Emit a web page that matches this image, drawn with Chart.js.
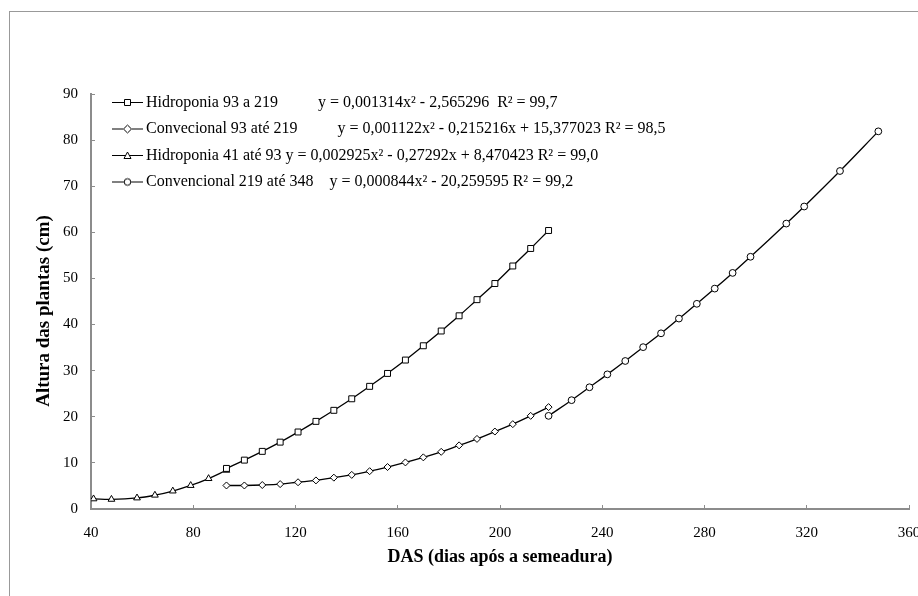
<!DOCTYPE html>
<html lang="pt">
<head>
  <meta charset="UTF-8">
  <title>Altura das plantas</title>
  <script src="https://cdn.jsdelivr.net/npm/chart.js"></script>
  <style>
    html, body {
      margin: 0;
      padding: 0;
      background: #fff;
      overflow: hidden;
    }
    .frame {
      position: absolute;
      left: 9px;
      top: 11px;
      width: 1000px;
      height: 1000px;
      border: 1px solid #999;
    }
    .wrap {
      position: absolute;
      left: 0;
      top: 0;
      width: 918px;
      height: 596px;
    }
  </style>
</head>
<body>
  <div class="frame"></div>
  <div class="wrap"><canvas id="growth"></canvas></div>

  <script>
    // values
    const hidro93Days = [93, 100, 107, 114, 121, 128, 135, 142, 149, 156, 163, 170, 177, 184, 191, 198, 205, 212, 219];
    const hidro93Height = [8.8, 10.6, 12.5, 14.5, 16.7, 19.0, 21.4, 23.9, 26.6, 29.4, 32.3, 35.4, 38.6, 41.9, 45.4, 48.9, 52.7, 56.5, 60.4];

    const conv93Days = [93, 100, 107, 114, 121, 128, 135, 142, 149, 156, 163, 170, 177, 184, 191, 198, 205, 212, 219];
    const conv93Height = [5.1, 5.1, 5.2, 5.4, 5.8, 6.2, 6.8, 7.4, 8.2, 9.1, 10.1, 11.2, 12.4, 13.8, 15.2, 16.8, 18.4, 20.2, 22.1];

    const hidro41Days = [41, 48, 58, 65, 72, 79, 86, 93];
    const hidro41Height = [2.2, 2.1, 2.4, 3.0, 3.9, 5.1, 6.6, 8.4];

    const conv219Days = [219, 228, 235, 242, 249, 256, 263, 270, 277, 284, 291, 298, 312, 319, 333, 348];
    const conv219Height = [20.2, 23.6, 26.4, 29.2, 32.1, 35.1, 38.1, 41.3, 44.5, 47.8, 51.2, 54.7, 61.9, 65.6, 73.3, 81.9];

    const seriesNames = ['Hidroponia 93 a 219', 'Convecional 93 até 219', 'Hidroponia 41 até 93', 'Convencional 219 até 348'];
    const equations = [
      'y = 0,001314x² - 2,565296  R² = 99,7',
      'y = 0,001122x² - 0,215216x + 15,377023 R² = 98,5',
      'y = 0,002925x² - 0,27292x + 8,470423 R² = 99,0',
      'y = 0,000844x² - 20,259595 R² = 99,2'
    ];
    const gaps = ['          ', '          ', ' ', '    '];
    const xTicks = [40, 80, 120, 160, 200, 240, 280, 320, 360];
    const yTicks = [0, 10, 20, 30, 40, 50, 60, 70, 80, 90];

    const serif = "'Liberation Serif', 'Times New Roman', serif";
    const axisGrey = '#8c8c8c';

    function pairs(xs, ys) {
      return xs.map((x, i) => ({ x: x, y: ys[i] }));
    }

    // little line+marker pictures for the legend, Excel style
    function legendIcon(shape) {
      const c = document.createElement('canvas');
      c.width = 33;
      c.height = 13;
      const g = c.getContext('2d');
      g.strokeStyle = '#000';
      g.lineWidth = 1;
      g.beginPath();
      g.moveTo(1, 6.5);
      g.lineTo(32, 6.5);
      g.stroke();
      g.fillStyle = '#fff';
      g.beginPath();
      if (shape === 'rect') {
        g.rect(13.5, 3.5, 6, 6);
      } else if (shape === 'rectRot') {
        g.moveTo(16.5, 2.5); g.lineTo(20.5, 6.5); g.lineTo(16.5, 10.5); g.lineTo(12.5, 6.5); g.closePath();
      } else if (shape === 'triangle') {
        g.moveTo(16.5, 3); g.lineTo(20, 9.5); g.lineTo(13, 9.5); g.closePath();
      } else {
        g.arc(16.5, 6.5, 3.3, 0, Math.PI * 2);
      }
      g.fill();
      g.stroke();
      return c;
    }

    const shapes = ['rect', 'rectRot', 'triangle', 'circle'];
    const icons = shapes.map(legendIcon);

    function makeSet(i, xs, ys, radius) {
      return {
        label: seriesNames[i],
        data: pairs(xs, ys),
        borderColor: '#000',
        borderWidth: 1.3,
        tension: 0.4,
        pointStyle: shapes[i],
        pointRadius: radius,
        pointBorderWidth: 1,
        pointBorderColor: '#000',
        pointBackgroundColor: '#fff'
      };
    }

    // move the legend into the top-left corner of the plot
    const legendSpot = {
      id: 'legendSpot',
      afterLayout(chart) {
        chart.legend.left = chart.chartArea.left + 15.5;
        chart.legend.top = chart.chartArea.top - 10;
      }
    };

    const ctx = document.getElementById('growth').getContext('2d');
    const growthChart = new Chart(ctx, {
      type: 'line',
      data: {
        datasets: [
          makeSet(0, hidro93Days, hidro93Height, 4.2),
          makeSet(1, conv93Days, conv93Height, 3.5),
          makeSet(2, hidro41Days, hidro41Height, 3.9),
          makeSet(3, conv219Days, conv219Height, 3.4)
        ]
      },
      options: {
        responsive: true,
        maintainAspectRatio: false,
        animation: false,
        layout: {
          padding: { top: 94, right: 9, left: 0, bottom: 0 }
        },
        scales: {
          x: {
            type: 'linear',
            min: 40,
            max: 360,
            afterBuildTicks(scale) {
              scale.ticks = xTicks.map(v => ({ value: v }));
            },
            afterFit(scale) {
              scale.height = 87;
              scale.paddingLeft = 0;
              scale.paddingRight = 0;
            },
            ticks: {
              color: '#000',
              font: { family: serif, size: 15 },
              padding: 19,
              maxRotation: 0
            },
            grid: {
              drawOnChartArea: false,
              drawTicks: true,
              tickLength: -4,
              tickColor: axisGrey,
              tickWidth: 1
            },
            border: { color: axisGrey, width: 2 },
            title: {
              display: true,
              text: 'DAS (dias após a semeadura)',
              color: '#000',
              font: { family: serif, size: 18, weight: 'bold' },
              padding: { top: 0, bottom: 28 }
            }
          },
          y: {
            min: 0,
            max: 90,
            afterBuildTicks(scale) {
              scale.ticks = yTicks.map(v => ({ value: v }));
            },
            afterFit(scale) {
              scale.width = 91;
            },
            ticks: {
              color: '#000',
              font: { family: serif, size: 15 },
              padding: 17
            },
            grid: {
              drawOnChartArea: false,
              drawTicks: true,
              tickLength: -4,
              tickColor: axisGrey,
              tickWidth: 1
            },
            border: { color: axisGrey, width: 2 },
            title: {
              display: true,
              // trailing spaces push the title a little lower, as in the original
              text: 'Altura das plantas (cm)    ',
              color: '#000',
              font: { family: serif, size: 19, weight: 'bold' },
              padding: { top: 33, bottom: 0 }
            }
          }
        },
        plugins: {
          legend: {
            position: 'chartArea',
            align: 'start',
            labels: {
              usePointStyle: true,
              pointStyleWidth: 21,
              padding: 10.5,
              color: '#000',
              font: { family: serif, size: 16 },
              generateLabels(chart) {
                return chart.data.datasets.map((ds, i) => ({
                  text: ds.label + gaps[i] + equations[i],
                  pointStyle: icons[i],
                  fillStyle: '#fff',
                  strokeStyle: '#000',
                  lineWidth: 0,
                  fontColor: '#000',
                  hidden: false,
                  datasetIndex: i
                }));
              }
            }
          },
          tooltip: { enabled: false }
        }
      },
      plugins: [legendSpot]
    });
  </script>
</body>
</html>
